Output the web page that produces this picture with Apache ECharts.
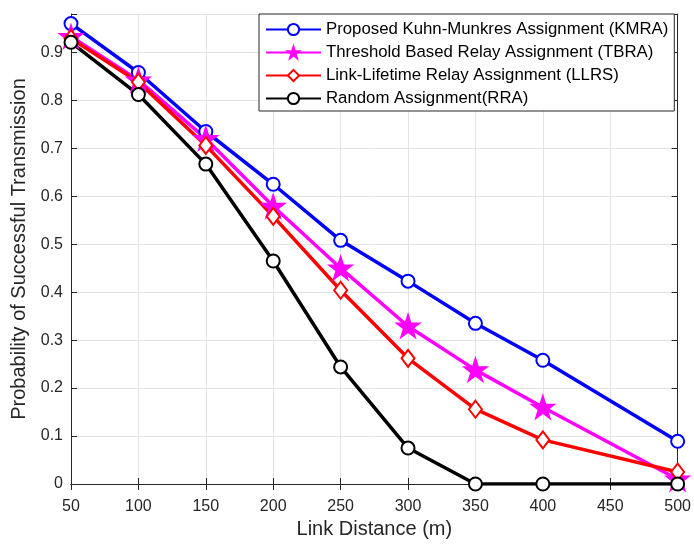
<!DOCTYPE html>
<html>
<head>
<meta charset="utf-8">
<script src="https://cdn.jsdelivr.net/npm/echarts@6/dist/echarts.min.js"></script>
<style>
  html, body { margin: 0; padding: 0; background: #fff; }
  #chart { width: 694px; height: 545px; }
</style>
</head>
<body>
<div id="chart"></div>
<script>
var distances = [50, 100, 150, 200, 250, 300, 350, 400, 500];
var kmra = [0.960, 0.858, 0.735, 0.625, 0.508, 0.423, 0.335, 0.258, 0.089];
var tbra = [0.933, 0.842, 0.720, 0.579, 0.450, 0.329, 0.238, 0.160, 0.010];
var llrs = [0.929, 0.838, 0.706, 0.558, 0.404, 0.262, 0.156, 0.092, 0.025];
var rra  = [0.921, 0.812, 0.667, 0.465, 0.244, 0.075, 0, 0, 0];

var seriesNames = [
    'Proposed Kuhn-Munkres Assignment (KMRA)',
    'Threshold Based Relay Assignment (TBRA)',
    'Link-Lifetime Relay Assignment (LLRS)',
    'Random Assignment(RRA)'
];

var starPath = 'path://M50,0 L61.8,35.3 L99,35.3 L68.9,57.1 L80.4,92.5 L50,70.6 L19.6,92.5 L31.1,57.1 L1,35.3 L38.2,35.3 Z';

function pairs(vals) {
    var res = [];
    for (var i = 0; i < vals.length; i++) {
        res.push([distances[i], vals[i]]);
    }
    return res;
}

var font = 'Liberation Sans';
var axisColor = '#262626';
var gridColor = '#e3e3e3';

var chart = echarts.init(document.getElementById('chart'));

function makeSeries(name, vals, color, symbol, size) {
    return {
        name: name,
        type: 'line',
        data: pairs(vals),
        symbol: symbol,
        symbolSize: size,
        showAllSymbol: true,
        lineStyle: { color: color, width: 3.5 },
        itemStyle: { color: color, borderColor: color, borderWidth: 2.5 },
        animation: false
    };
}

var option = {
    backgroundColor: '#fff',
    grid: { left: 71, right: 14, top: 14, bottom: 61 },
    legend: {
        left: 259,
        top: 14,
        orient: 'vertical',
        itemWidth: 55,
        itemHeight: 14,
        itemGap: 6,
        padding: [7, 6, 4, 6],
        borderColor: '#262626',
        borderWidth: 1,
        backgroundColor: '#fff',
        textStyle: { fontFamily: font, fontSize: 16.8, color: '#000' },
        data: seriesNames
    },
    xAxis: [{
        type: 'value',
        min: 50,
        max: 500,
        interval: 50,
        name: 'Link Distance (m)',
        nameLocation: 'middle',
        nameGap: 34,
        nameTextStyle: { fontFamily: font, fontSize: 20, color: axisColor },
        axisLine: { show: true, onZero: false, lineStyle: { color: axisColor, width: 1 } },
        axisTick: { show: true, inside: true, length: 6, lineStyle: { color: axisColor } },
        axisLabel: { fontFamily: font, fontSize: 16, color: axisColor, margin: 15 },
        splitLine: { show: true, lineStyle: { color: gridColor, width: 1 } }
    }, {
        type: 'value',
        position: 'top',
        min: 50,
        max: 500,
        interval: 50,
        axisLine: { show: true, lineStyle: { color: axisColor, width: 1 } },
        axisTick: { show: true, inside: true, length: 6, lineStyle: { color: axisColor } },
        axisLabel: { show: false },
        splitLine: { show: false }
    }],
    yAxis: [{
        type: 'value',
        min: 0,
        max: 0.98,
        interval: 0.1,
        name: 'Probability of Successful Transmission',
        nameLocation: 'middle',
        nameGap: 42,
        nameTextStyle: { fontFamily: font, fontSize: 20, color: axisColor },
        axisLine: { show: true, lineStyle: { color: axisColor, width: 1 } },
        axisTick: { show: true, inside: true, length: 6, lineStyle: { color: axisColor } },
        axisLabel: {
            fontFamily: font, fontSize: 16, color: axisColor, margin: 8,
            formatter: function (v) { return v > 0.95 ? '' : String(Math.round(v * 10) / 10); }
        },
        splitLine: { show: true, lineStyle: { color: gridColor, width: 1 } }
    }, {
        type: 'value',
        position: 'right',
        min: 0,
        max: 0.98,
        interval: 0.1,
        axisLine: { show: true, lineStyle: { color: axisColor, width: 1 } },
        axisTick: { show: true, inside: true, length: 6, lineStyle: { color: axisColor } },
        axisLabel: { show: false },
        splitLine: { show: false }
    }],
    series: [
        makeSeries(seriesNames[0], kmra, '#0000ff', 'emptyCircle', 13),
        makeSeries(seriesNames[1], tbra, '#ff00ff', starPath, 20),
        makeSeries(seriesNames[2], llrs, '#ff0000', 'emptyDiamond', [13, 17]),
        makeSeries(seriesNames[3], rra, '#000000', 'emptyCircle', 13)
    ]
};

chart.setOption(option);
</script>
</body>
</html>
